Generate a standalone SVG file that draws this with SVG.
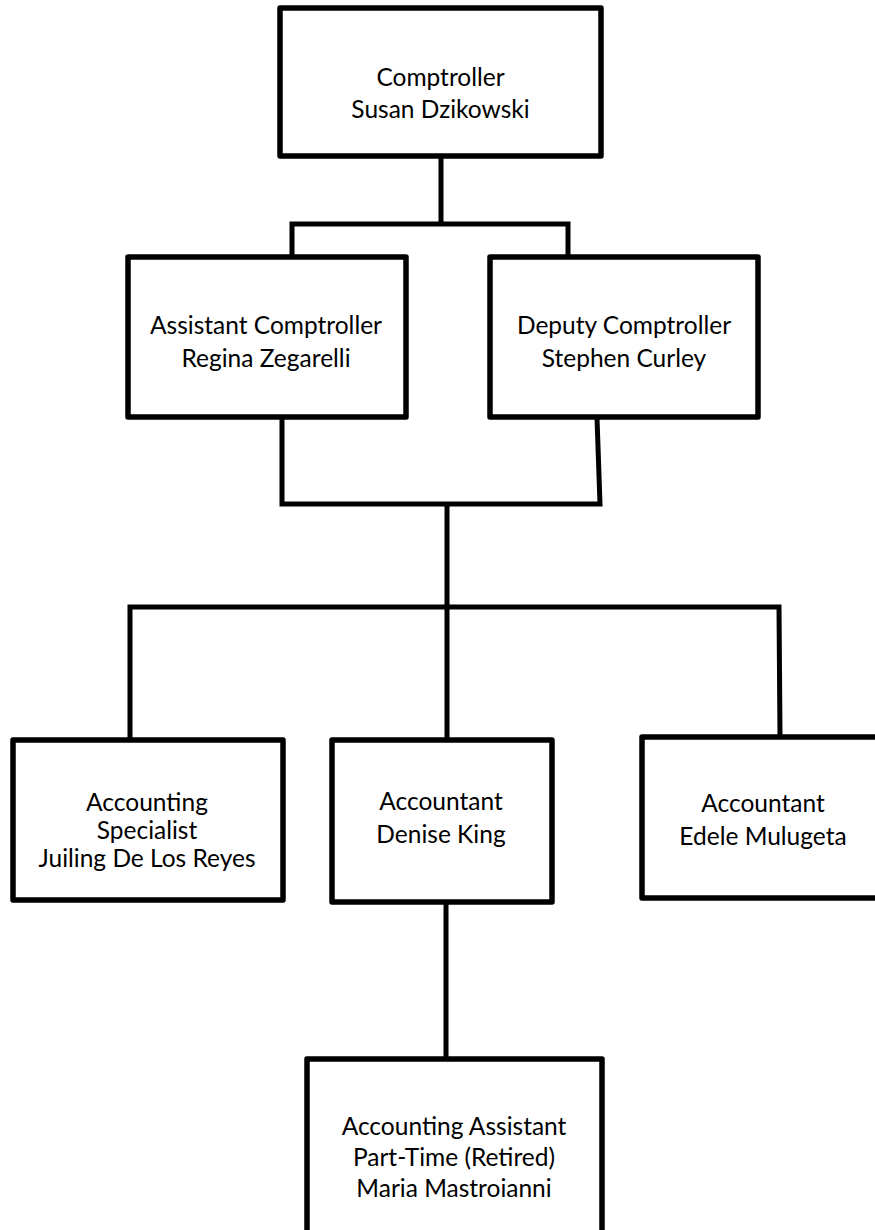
<svg xmlns="http://www.w3.org/2000/svg" width="875" height="1230" viewBox="0 0 875 1230">
  <style>
    .box { fill: #ffffff; stroke: #000000; stroke-width: 5.5; stroke-linejoin: round; }
    .conn { fill: none; stroke: #000000; stroke-width: 5; stroke-linejoin: miter; }
    text { font-family: Lato, "Open Sans", "Liberation Sans", sans-serif; font-size: 24.5px; fill: #000000; text-anchor: middle; }
  </style>
  <rect width="875" height="1230" fill="#ffffff"/>
  <g id="connectors">
    <path class="conn" d="M441 158 V224 M292 257 V224 H568 V257"/>
    <path class="conn" d="M282 418 V504 H600 L597 418"/>
    <path class="conn" d="M447 504 V740"/>
    <path class="conn" d="M130 740 V607 H447 L779 607 L780 737"/>
    <path class="conn" d="M446 902 V1059"/>
  </g>
  <g id="comptroller">
    <rect class="box" x="280" y="8" width="321" height="148"/>
    <text x="440.5" y="86">Comptroller</text>
    <text x="440.5" y="118">Susan Dzikowski</text>
  </g>
  <g id="assistant-comptroller">
    <rect class="box" x="128" y="257" width="278" height="160"/>
    <text x="266" y="334">Assistant Comptroller</text>
    <text x="266" y="367">Regina Zegarelli</text>
  </g>
  <g id="deputy-comptroller">
    <rect class="box" x="490" y="257" width="268" height="160"/>
    <text x="624" y="334">Deputy Comptroller</text>
    <text x="624" y="367">Stephen Curley</text>
  </g>
  <g id="accounting-specialist">
    <rect class="box" x="13" y="740" width="270" height="160"/>
    <text x="147" y="811">Accounting</text>
    <text x="147" y="839">Specialist</text>
    <text x="147" y="867">Juiling De Los Reyes</text>
  </g>
  <g id="accountant-king">
    <rect class="box" x="332" y="740" width="220" height="162"/>
    <text x="441" y="810">Accountant</text>
    <text x="441" y="843">Denise King</text>
  </g>
  <g id="accountant-mulugeta">
    <rect class="box" x="642" y="737" width="242" height="161"/>
    <text x="763" y="812">Accountant</text>
    <text x="763" y="845">Edele Mulugeta</text>
  </g>
  <g id="accounting-assistant">
    <rect class="box" x="307" y="1059" width="295" height="200"/>
    <text x="454" y="1135">Accounting Assistant</text>
    <text x="454" y="1166">Part-Time (Retired)</text>
    <text x="454" y="1197">Maria Mastroianni</text>
  </g>
</svg>
